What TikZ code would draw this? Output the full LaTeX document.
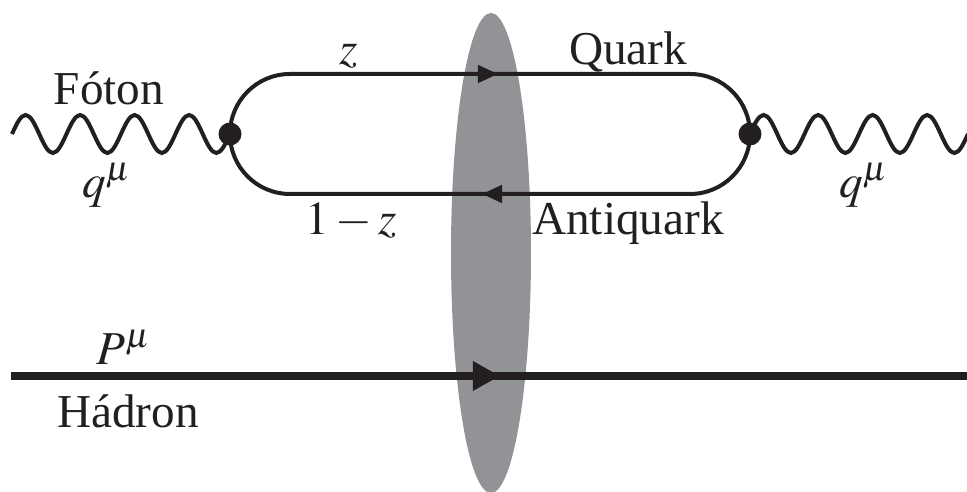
\documentclass[tikz,border=0pt]{standalone}
\usepackage{mathptmx}
\usepackage{fontspec}
\setmainfont{Liberation Serif}
\usepackage{tikz}
\usetikzlibrary{arrows.meta}
\usepackage{xcolor}
\definecolor{blobgray}{RGB}{146,147,151}
\definecolor{inkdark}{RGB}{35,31,32}

\tikzset{
  fermion/.style={inkdark, line width=1pt},
  hadron/.style={inkdark, line width=2pt},
  photon/.style={inkdark, line width=1pt},
  label/.style={anchor=base, inkdark, font=\fontsize{11.8}{14}\selectfont},
}

\begin{document}
\begin{tikzpicture}[x=25pt, y=25pt]
  \useasboundingbox (0,0) rectangle (9.67,4.92);
  % shaded target
  \fill[blobgray] (4.91,2.39) ellipse [x radius=0.40, y radius=2.40];
  % dipole vertices and end points
  \coordinate (v1) at (2.30,3.58);
  \coordinate (v2) at (7.50,3.58);
  \coordinate (qtail) at (4.70,4.18);
  \coordinate (qtip) at (4.98,4.18);
  \coordinate (atail) at (5.10,2.98);
  \coordinate (atip) at (4.82,2.98);
  \coordinate (win) at (0.12,3.58);
  \coordinate (hin) at (0.11,1.16);
  \coordinate (hmid) at (5.00,1.16);
  \coordinate (hout) at (9.67,1.16);
  % quark / antiquark loop
  \draw[fermion] (v1) arc[start angle=180, end angle=90, radius=0.6]
    -- (6.90,4.18) arc[start angle=90, end angle=-90, radius=0.6]
    -- (2.90,2.98) arc[start angle=270, end angle=180, radius=0.6];
  \draw[fermion, -{Triangle[length=5pt, width=4.3pt]}] (qtail) -- (qtip);
  \draw[fermion, -{Triangle[length=5pt, width=4.3pt]}] (atail) -- (atip);
  % photons, four periods each
  \draw[photon] (win) \foreach \k in {1,...,4} {
      sin ++(0.13625,0.19) cos ++(0.13625,-0.19) sin ++(0.13625,-0.19) cos ++(0.13625,0.19)};
  \draw[photon] (v2) \foreach \k in {1,...,4} {
      sin ++(0.13625,0.19) cos ++(0.13625,-0.19) sin ++(0.13625,-0.19) cos ++(0.13625,0.19)};
  \fill[inkdark] (v1) circle (0.115);
  \fill[inkdark] (v2) circle (0.115);
  % hadron
  \draw[hadron] (hin) -- (hout);
  \draw[hadron, -{Triangle[length=6.8pt, width=7pt]}] (4.60,1.16) -- (hmid);
  % labels
  \node[label] (lz) at (3.49,4.27) {$z$};
  \node[label] (lquark) at (6.28,4.27) {Quark};
  \node[label] (lfoton) at (1.09,3.87) {Fóton};
  \node[label] (lq1) at (1.07,2.94) {$q^{\mu}$};
  \node[label] (lq2) at (8.64,2.94) {$q^{\mu}$};
  \node[label] (lzbar) at (3.51,2.57) {$1-z$};
  \node[label] (lanti) at (6.28,2.57) {Antiquark};
  \node[label] (lP) at (1.24,1.27) {$P^{\mu}$};
  \node[label] (lhad) at (1.28,0.64) {Hádron};
\end{tikzpicture}
\end{document}
